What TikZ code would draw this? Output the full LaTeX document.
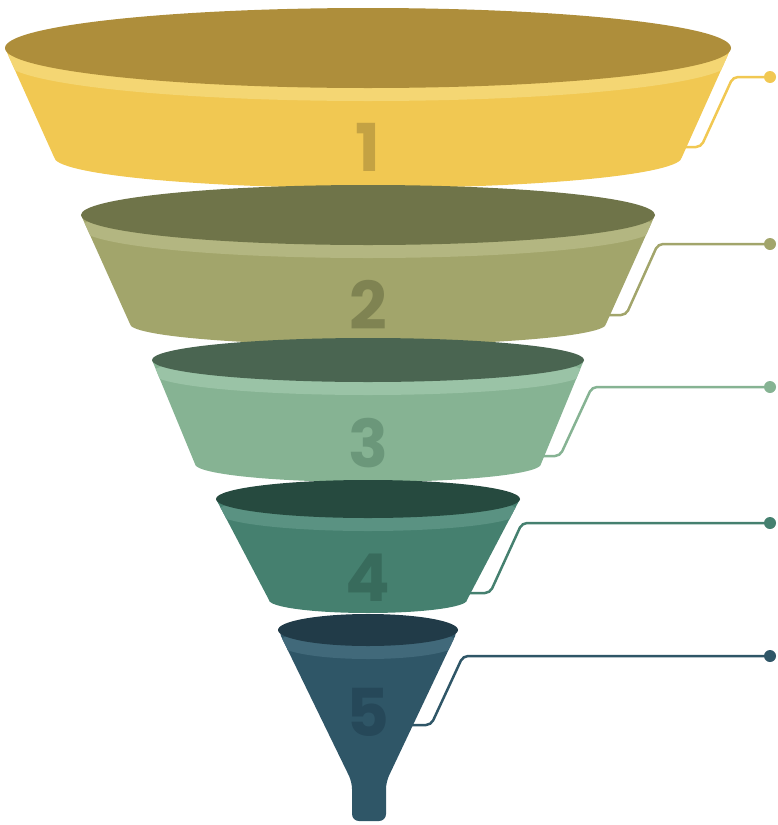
\documentclass[tikz,border=0pt]{standalone}
\usepackage{fontspec}
\newfontfamily\numfont{Poppins}
\definecolor{top1}{HTML}{AE8E3B}
\definecolor{body1}{HTML}{F1C852}
\definecolor{band1}{HTML}{F4D673}
\definecolor{num1}{HTML}{C4A243}
\definecolor{top2}{HTML}{6F7449}
\definecolor{body2}{HTML}{A2A56B}
\definecolor{band2}{HTML}{B3B681}
\definecolor{num2}{HTML}{7F8352}
\definecolor{top3}{HTML}{4A6551}
\definecolor{body3}{HTML}{86B393}
\definecolor{band3}{HTML}{9AC3A6}
\definecolor{num3}{HTML}{6B977A}
\definecolor{top4}{HTML}{264A3F}
\definecolor{body4}{HTML}{45806F}
\definecolor{band4}{HTML}{5A9282}
\definecolor{num4}{HTML}{386B5C}
\definecolor{top5}{HTML}{213B48}
\definecolor{body5}{HTML}{2F5667}
\definecolor{band5}{HTML}{41697A}
\definecolor{num5}{HTML}{264859}

\begin{document}
\begin{tikzpicture}[x=1pt, y=-1pt]
  \tikzset{link/.style={line width=2.5pt, rounded corners=5pt},
           knob/.style={circle, inner sep=0pt, minimum size=12pt},
           ringnum/.style={font=\fontsize{66}{66}\selectfont\numfont\bfseries}}
  \useasboundingbox (0,0) rectangle (777,825);
  % leader lines
  \foreach \i/\dy/\bx/\ey/\ex in {1/77/733/147/680, 2/244/658/315/605,
                                  3/387/592/456/540, 4/523/522/593/467,
                                  5/656/463/725/410}
  {
    \node[knob, fill=body\i] (k\i) at (770,\dy) {};
    \coordinate (t\i) at (\ex,\ey);
    \draw[link, draw=body\i] (k\i.center) -- (\bx,\dy) -- ++(-32,\ey-\dy) -- (t\i);
  }
  % rings 1 to 4
  \foreach \i/\cy/\rx/\ry/\by/\brx/\bry/\ny in {1/48/363/40/157/314/31/147,
                                                2/215/287/30/324/238/21/305,
                                                3/360/216/22/464/173/18/443,
                                                4/499/152/19/600/99/13/578}
  {
    \begin{scope}
      \clip (368-\rx,\cy) -- (368-\brx,\by)
        arc[start angle=180, end angle=0, x radius=\brx, y radius=\bry]
        -- (368+\rx,\cy) -- cycle;
      \fill[body\i] (0,0) rectangle (777,825);
      \fill[band\i] (368,\cy+13) ellipse [x radius=\rx, y radius=\ry];
    \end{scope}
    \fill[top\i] (368,\cy) ellipse [x radius=\rx, y radius=\ry];
    \node[ringnum, text=num\i] (n\i) at (368,\ny) {\i};
  }
  % ring 5 with spout
  \begin{scope}
    \clip[rounded corners=7pt] (278,630) -- (352,782) -- (352,821)
      -- (386,821) -- (386,782) -- (458,630) -- cycle;
    \fill[body5] (0,0) rectangle (777,825);
    \fill[band5] (368,643) ellipse [x radius=90, y radius=16];
  \end{scope}
  \fill[top5] (368,630) ellipse [x radius=90, y radius=16];
  \node[ringnum, text=num5] (n5) at (368,712) {5};
\end{tikzpicture}
\end{document}
